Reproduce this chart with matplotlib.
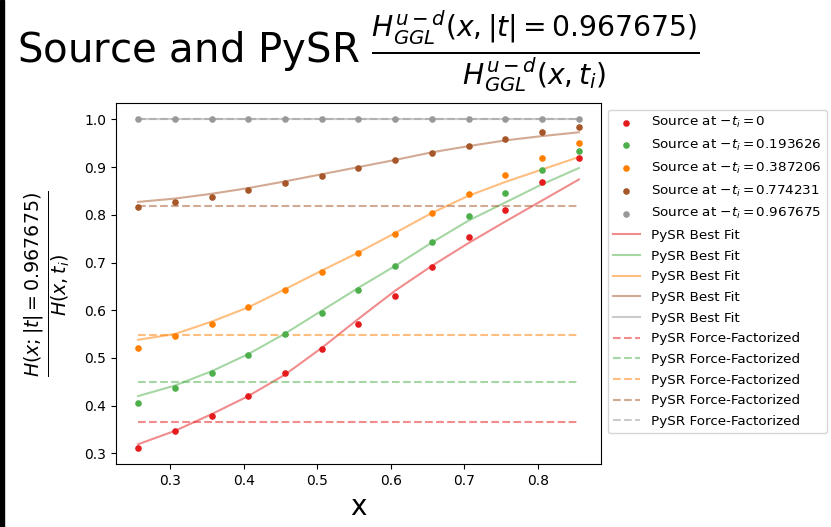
import numpy as np
import matplotlib
matplotlib.use('Agg')
import matplotlib.pyplot as plt
from matplotlib.patches import Rectangle

# momentum fraction grid
x = [0.256, 0.306, 0.356, 0.406, 0.456, 0.506, 0.556, 0.606, 0.656, 0.706, 0.756, 0.806, 0.856]

t_labels = ['0', '0.193626', '0.387206', '0.774231', '0.967675']
colors = ['#e41a1c', '#4daf4a', '#ff7f00', '#a65628', '#999999']

# source ratios
src_t0 = [0.312, 0.347, 0.379, 0.421, 0.468, 0.519, 0.572, 0.630, 0.691, 0.753, 0.811, 0.869, 0.920]
src_t1 = [0.406, 0.437, 0.468, 0.507, 0.550, 0.595, 0.642, 0.692, 0.744, 0.797, 0.846, 0.893, 0.934]
src_t2 = [0.521, 0.547, 0.572, 0.607, 0.642, 0.681, 0.720, 0.760, 0.803, 0.844, 0.883, 0.920, 0.951]
src_t3 = [0.816, 0.826, 0.838, 0.851, 0.866, 0.881, 0.898, 0.914, 0.930, 0.945, 0.959, 0.973, 0.984]
src_t4 = [1.0] * 13

# PySR best fit
fit_t0 = [0.319, 0.347, 0.382, 0.420, 0.465, 0.521, 0.582, 0.641, 0.693, 0.741, 0.786, 0.830, 0.874]
fit_t1 = [0.420, 0.442, 0.472, 0.508, 0.551, 0.599, 0.647, 0.693, 0.742, 0.788, 0.826, 0.864, 0.898]
fit_t2 = [0.538, 0.550, 0.576, 0.606, 0.644, 0.683, 0.721, 0.762, 0.804, 0.840, 0.869, 0.895, 0.921]
fit_t3 = [0.827, 0.834, 0.844, 0.856, 0.870, 0.885, 0.900, 0.915, 0.931, 0.944, 0.956, 0.965, 0.973]
fit_t4 = [1.0] * 13

# PySR force-factorized (constant in x)
ff_vals = [0.366, 0.449, 0.548, 0.818, 1.0]

sources = [src_t0, src_t1, src_t2, src_t3, src_t4]
fits = [fit_t0, fit_t1, fit_t2, fit_t3, fit_t4]

fig = plt.figure(figsize=(8.31, 5.27), dpi=100)
ax = fig.add_axes([0.1396, 0.1195, 0.5835, 0.6851])

for t, c, s in zip(t_labels, colors, sources):
    ax.scatter(x, s, s=14, color=c, label=r'Source at $-t_i = %s$' % t, zorder=3)
for c, f in zip(colors, fits):
    ax.plot(x, f, '-', color=c, alpha=0.5, lw=1.5, label='PySR Best Fit')
for c, v in zip(colors, ff_vals):
    ax.plot(x, [v] * len(x), '--', color=c, alpha=0.5, lw=1.5, label='PySR Force-Factorized')

ax.set_title(r'Source and PySR $\frac{H^{u-d}_{GGL}(x,|t|=0.967675)}{H^{u-d}_{GGL}(x,t_i)}$',
             fontsize=29, y=1.09)
ax.set_xlabel('x', fontsize=20)
ax.set_ylabel(r'$\frac{H(x;|t|=0.967675)}{H(x,t_i)}$', fontsize=19.5, labelpad=8)
ax.legend(loc='upper left', bbox_to_anchor=(1.0, 1.0), fontsize=9.7, labelspacing=0.57)

# dark strip along the left edge of the original image
fig.patches.append(Rectangle((0, 0), 4 / 831, 1, transform=fig.transFigure,
                             color='black', zorder=10))

fig.savefig('out.png', dpi=100)
